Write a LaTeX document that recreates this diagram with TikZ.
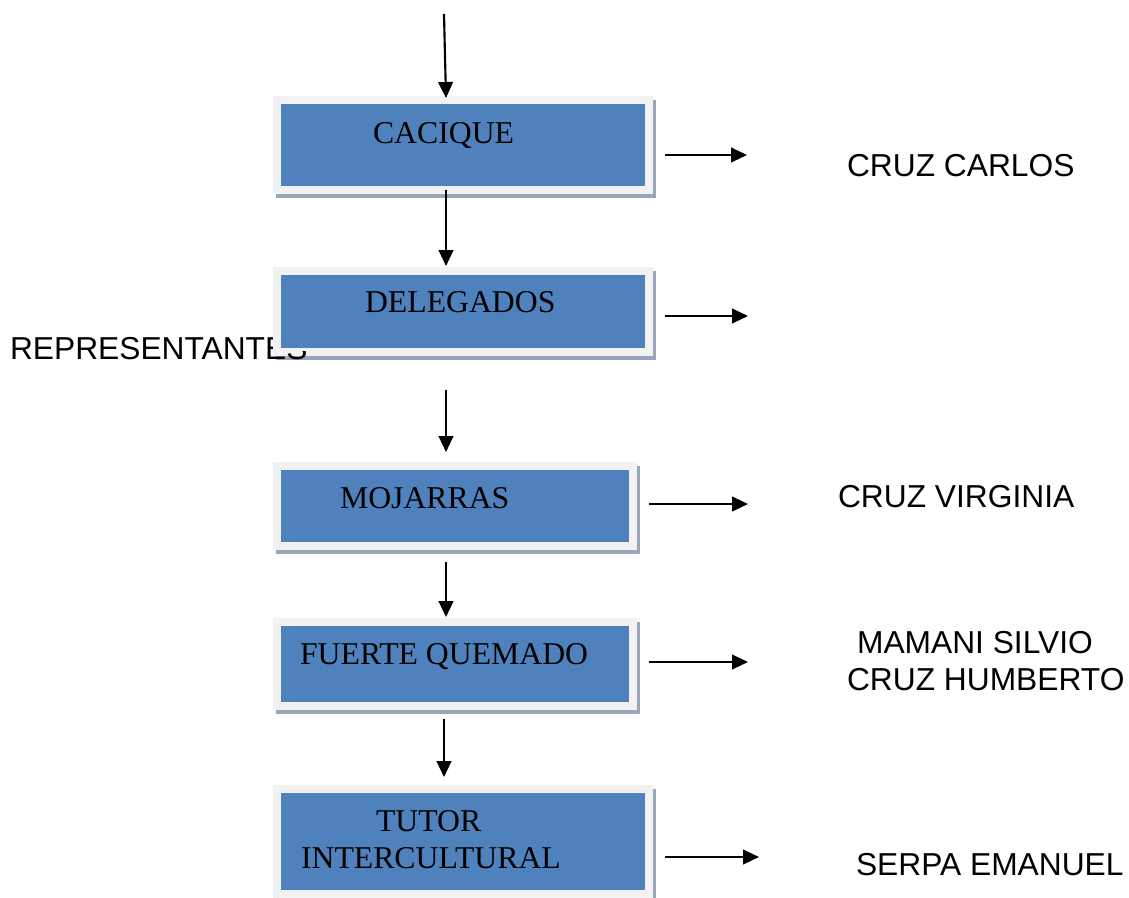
\documentclass[tikz,border=0pt]{standalone}
\usepackage{fontspec}
\setmainfont{Liberation Serif}
\newfontfamily\arialfont{Liberation Sans}
\usetikzlibrary{arrows.meta,shadows}

\definecolor{marco}{RGB}{242,242,242}
\definecolor{azul}{RGB}{79,129,189}
\definecolor{sombra}{RGB}{152,165,186}

\tikzset{
  caja/.style={fill=marco, inner sep=0pt, anchor=north west,
    drop shadow={shadow xshift=2.25pt, shadow yshift=-3pt, fill=sombra, opacity=1},
    path picture={\fill[azul] ([shift={(6pt,-6pt)}]path picture bounding box.north west)
      rectangle ([shift={(-6pt,6pt)}]path picture bounding box.south east);}},
  titulo/.style={anchor=base west, inner sep=0pt, font=\fontsize{23.8}{28}\selectfont},
  nombre/.style={anchor=base west, inner sep=0pt, font=\arialfont\fontsize{23.8}{28}\selectfont},
}

\begin{document}
\begin{tikzpicture}[x=0.75pt, y=-0.75pt, line width=1.6pt,
  >={Triangle[length=12pt,width=11pt]}]
 \clip (0,0) rectangle (1129,897);
 % cajas
 \node[caja, minimum width=285pt, minimum height=73.5pt] (c1) at (272,95) {};
 \node[caja, minimum width=285pt, minimum height=66.75pt] (c2) at (272,266) {};
 \node[caja, minimum width=273pt, minimum height=66pt] (c3) at (272,461) {};
 \node[caja, minimum width=273pt, minimum height=69pt] (c4) at (272,617) {};
 \node[caja, minimum width=285pt, minimum height=84.75pt] (c5) at (272,784) {};
 \node[titulo] (t1) at (372,143) {CACIQUE};
 \node[titulo] (t2) at (364,312) {DELEGADOS};
 \node[titulo] (t3) at (339,508) {MOJARRAS};
 \node[titulo] (t4) at (299,664) {FUERTE QUEMADO};
 \node[titulo] (t5a) at (375,831) {TUTOR};
 \node[titulo] (t5b) at (300,868) {INTERCULTURAL};
 % texto tapado en parte por la caja de delegados
 \begin{scope}
  \clip (0,300) -- (272,300) -- (272,351) -- (400,351) -- (400,400) -- (0,400) -- cycle;
  \node[nombre] (rep) at (9,359) {REPRESENTANTES};
 \end{scope}
 % nombres
 \node[nombre] (n1) at (846,176) {CRUZ CARLOS};
 \node[nombre] (n3) at (837,507) {CRUZ VIRGINIA};
 \node[nombre] (n4a) at (856,653) {MAMANI SILVIO};
 \node[nombre] (n4b) at (846,690) {CRUZ HUMBERTO};
 \node[nombre] (n5) at (855,875) {SERPA EMANUEL};
 % flechas
 \coordinate (eje) at (446,0);
 \coordinate (eje2) at (444,0);
 \coordinate (entrada) at (444,14);
\draw[->] (entrada) -- ([yshift=-2.25pt]c1.north -| eje);
\draw[->, shorten <=-3.75pt] (c1.south -| eje) -- (c2.north -| eje);
\draw[->, shorten <=24.75pt, shorten >=6.75pt] (c2.south -| eje) -- (c3.north -| eje);
\draw[->, shorten <=8.25pt] (c3.south -| eje) -- (c4.north -| eje);
\draw[->, shorten <=6pt, shorten >=5.25pt] (c4.south -| eje2) -- (c5.north -| eje2);
 \coordinate (s1) at (747,155);
 \coordinate (s2) at (748,316);
 \coordinate (s3) at (748,504);
 \coordinate (s4) at (748,662);
 \coordinate (s5) at (759,857);
\draw[->, shorten <=8.25pt] (c1.east |- s1) -- (s1);
\draw[->, shorten <=8.25pt] (c2.east |- s2) -- (s2);
\draw[->, shorten <=8.25pt] (c3.east |- s3) -- (s3);
\draw[->, shorten <=8.25pt] (c4.east |- s4) -- (s4);
\draw[->, shorten <=8.25pt] (c5.east |- s5) -- (s5);
\end{tikzpicture}
\end{document}
